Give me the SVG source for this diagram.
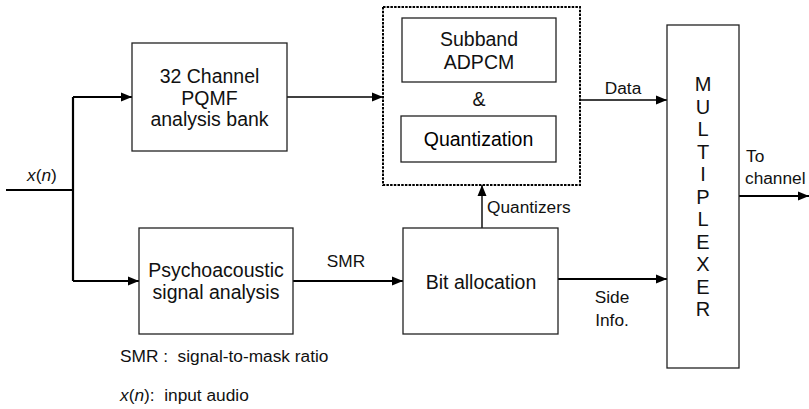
<svg xmlns="http://www.w3.org/2000/svg" width="809" height="409" viewBox="0 0 809 409">
<style>
.box{fill:#fff;stroke:#222;stroke-width:1.3}
.t{font-family:"Liberation Sans",Arial,sans-serif;font-size:19.5px;fill:#111;text-anchor:middle}
.l{font-family:"Liberation Sans",Arial,sans-serif;font-size:17.3px;fill:#111}
.c{fill:none;stroke:#000}
.thin{stroke-width:1.4}
.thick{stroke-width:2.2}
</style>
<defs>
<marker id="ah" markerUnits="userSpaceOnUse" markerWidth="12" markerHeight="12" viewBox="0 0 12 12" refX="11" refY="6" orient="auto">
<path d="M0,1.5 L11,6 L0,10.5 Z" fill="#000"/>
</marker>
</defs>
<rect width="809" height="409" fill="#fff"/>
<g id="connectors">
<path class="c thick" d="M6,190 H73"/>
<path class="c thick" d="M73,97 V281" />
<path class="c thick" d="M73,97 H132" marker-end="url(#ah)"/>
<path class="c thick" d="M73,281 H139" marker-end="url(#ah)"/>
<path class="c thin" d="M287,97 H383" marker-end="url(#ah)"/>
<path class="c thin" d="M580,100 H667" marker-end="url(#ah)"/>
<path class="c thick" d="M293,281 H403" marker-end="url(#ah)"/>
<path class="c thin" d="M482,228 V185" marker-end="url(#ah)"/>
<path class="c thick" d="M558,279 H667" marker-end="url(#ah)"/>
<path class="c thick" d="M739,196 H809" marker-end="url(#ah)"/>
<text class="l" x="27" y="181"><tspan font-style="italic">x</tspan>(<tspan font-style="italic">n</tspan>)</text>
<text class="l" x="346" y="267" text-anchor="middle">SMR</text>
<text class="l" x="623" y="94" text-anchor="middle">Data</text>
<text class="l" x="487" y="213">Quantizers</text>
<text class="l" x="612" y="303" text-anchor="middle">Side</text>
<text class="l" x="612" y="326" text-anchor="middle">Info.</text>
<text class="l" x="746" y="162">To</text>
<text class="l" x="745" y="184">channel</text>
</g>
<g id="pqmf">
<rect class="box" x="132" y="43" width="155" height="108"/>
<text class="t" x="209.5" y="83">32 Channel</text>
<text class="t" x="209.5" y="104.5">PQMF</text>
<text class="t" x="209.5" y="126">analysis bank</text>
</g>
<g id="psycho">
<rect class="box" x="139" y="228" width="154" height="106"/>
<text class="t" x="216" y="277">Psychoacoustic</text>
<text class="t" x="216" y="299">signal analysis</text>
</g>
<g id="adpcm-group">
<rect x="383" y="7" width="197" height="178" fill="none" stroke="#000" stroke-width="2" stroke-dasharray="2.5,1.2"/>
<text class="t" x="479" y="106">&amp;</text>
</g>
<g id="subband">
<rect class="box" x="402" y="18" width="154" height="64"/>
<text class="t" x="479" y="46">Subband</text>
<text class="t" x="479" y="69">ADPCM</text>
</g>
<g id="quantization">
<rect class="box" x="401" y="116" width="155" height="46"/>
<text class="t" x="478.5" y="146" style="fill:#000">Quantization</text>
</g>
<g id="bitalloc">
<rect class="box" x="403" y="228" width="155" height="106"/>
<text class="t" x="481" y="289">Bit allocation</text>
</g>
<g id="mux">
<rect class="box" x="667" y="25" width="72" height="343"/>
<g class="t" style="font-size:20px">
<text x="703" y="91">M</text>
<text x="703" y="113.5">U</text>
<text x="703" y="136">L</text>
<text x="703" y="158.5">T</text>
<text x="703" y="181">I</text>
<text x="703" y="203.5">P</text>
<text x="703" y="226">L</text>
<text x="703" y="248.5">E</text>
<text x="703" y="271">X</text>
<text x="703" y="293.5">E</text>
<text x="703" y="316">R</text>
</g>
</g>
<g id="legend">
<text class="l" x="120" y="362" style="white-space:pre">SMR :  signal-to-mask ratio</text>
<text class="l" x="120" y="401" style="white-space:pre"><tspan font-style="italic">x</tspan>(<tspan font-style="italic">n</tspan>):  input audio</text>
</g>
</svg>
